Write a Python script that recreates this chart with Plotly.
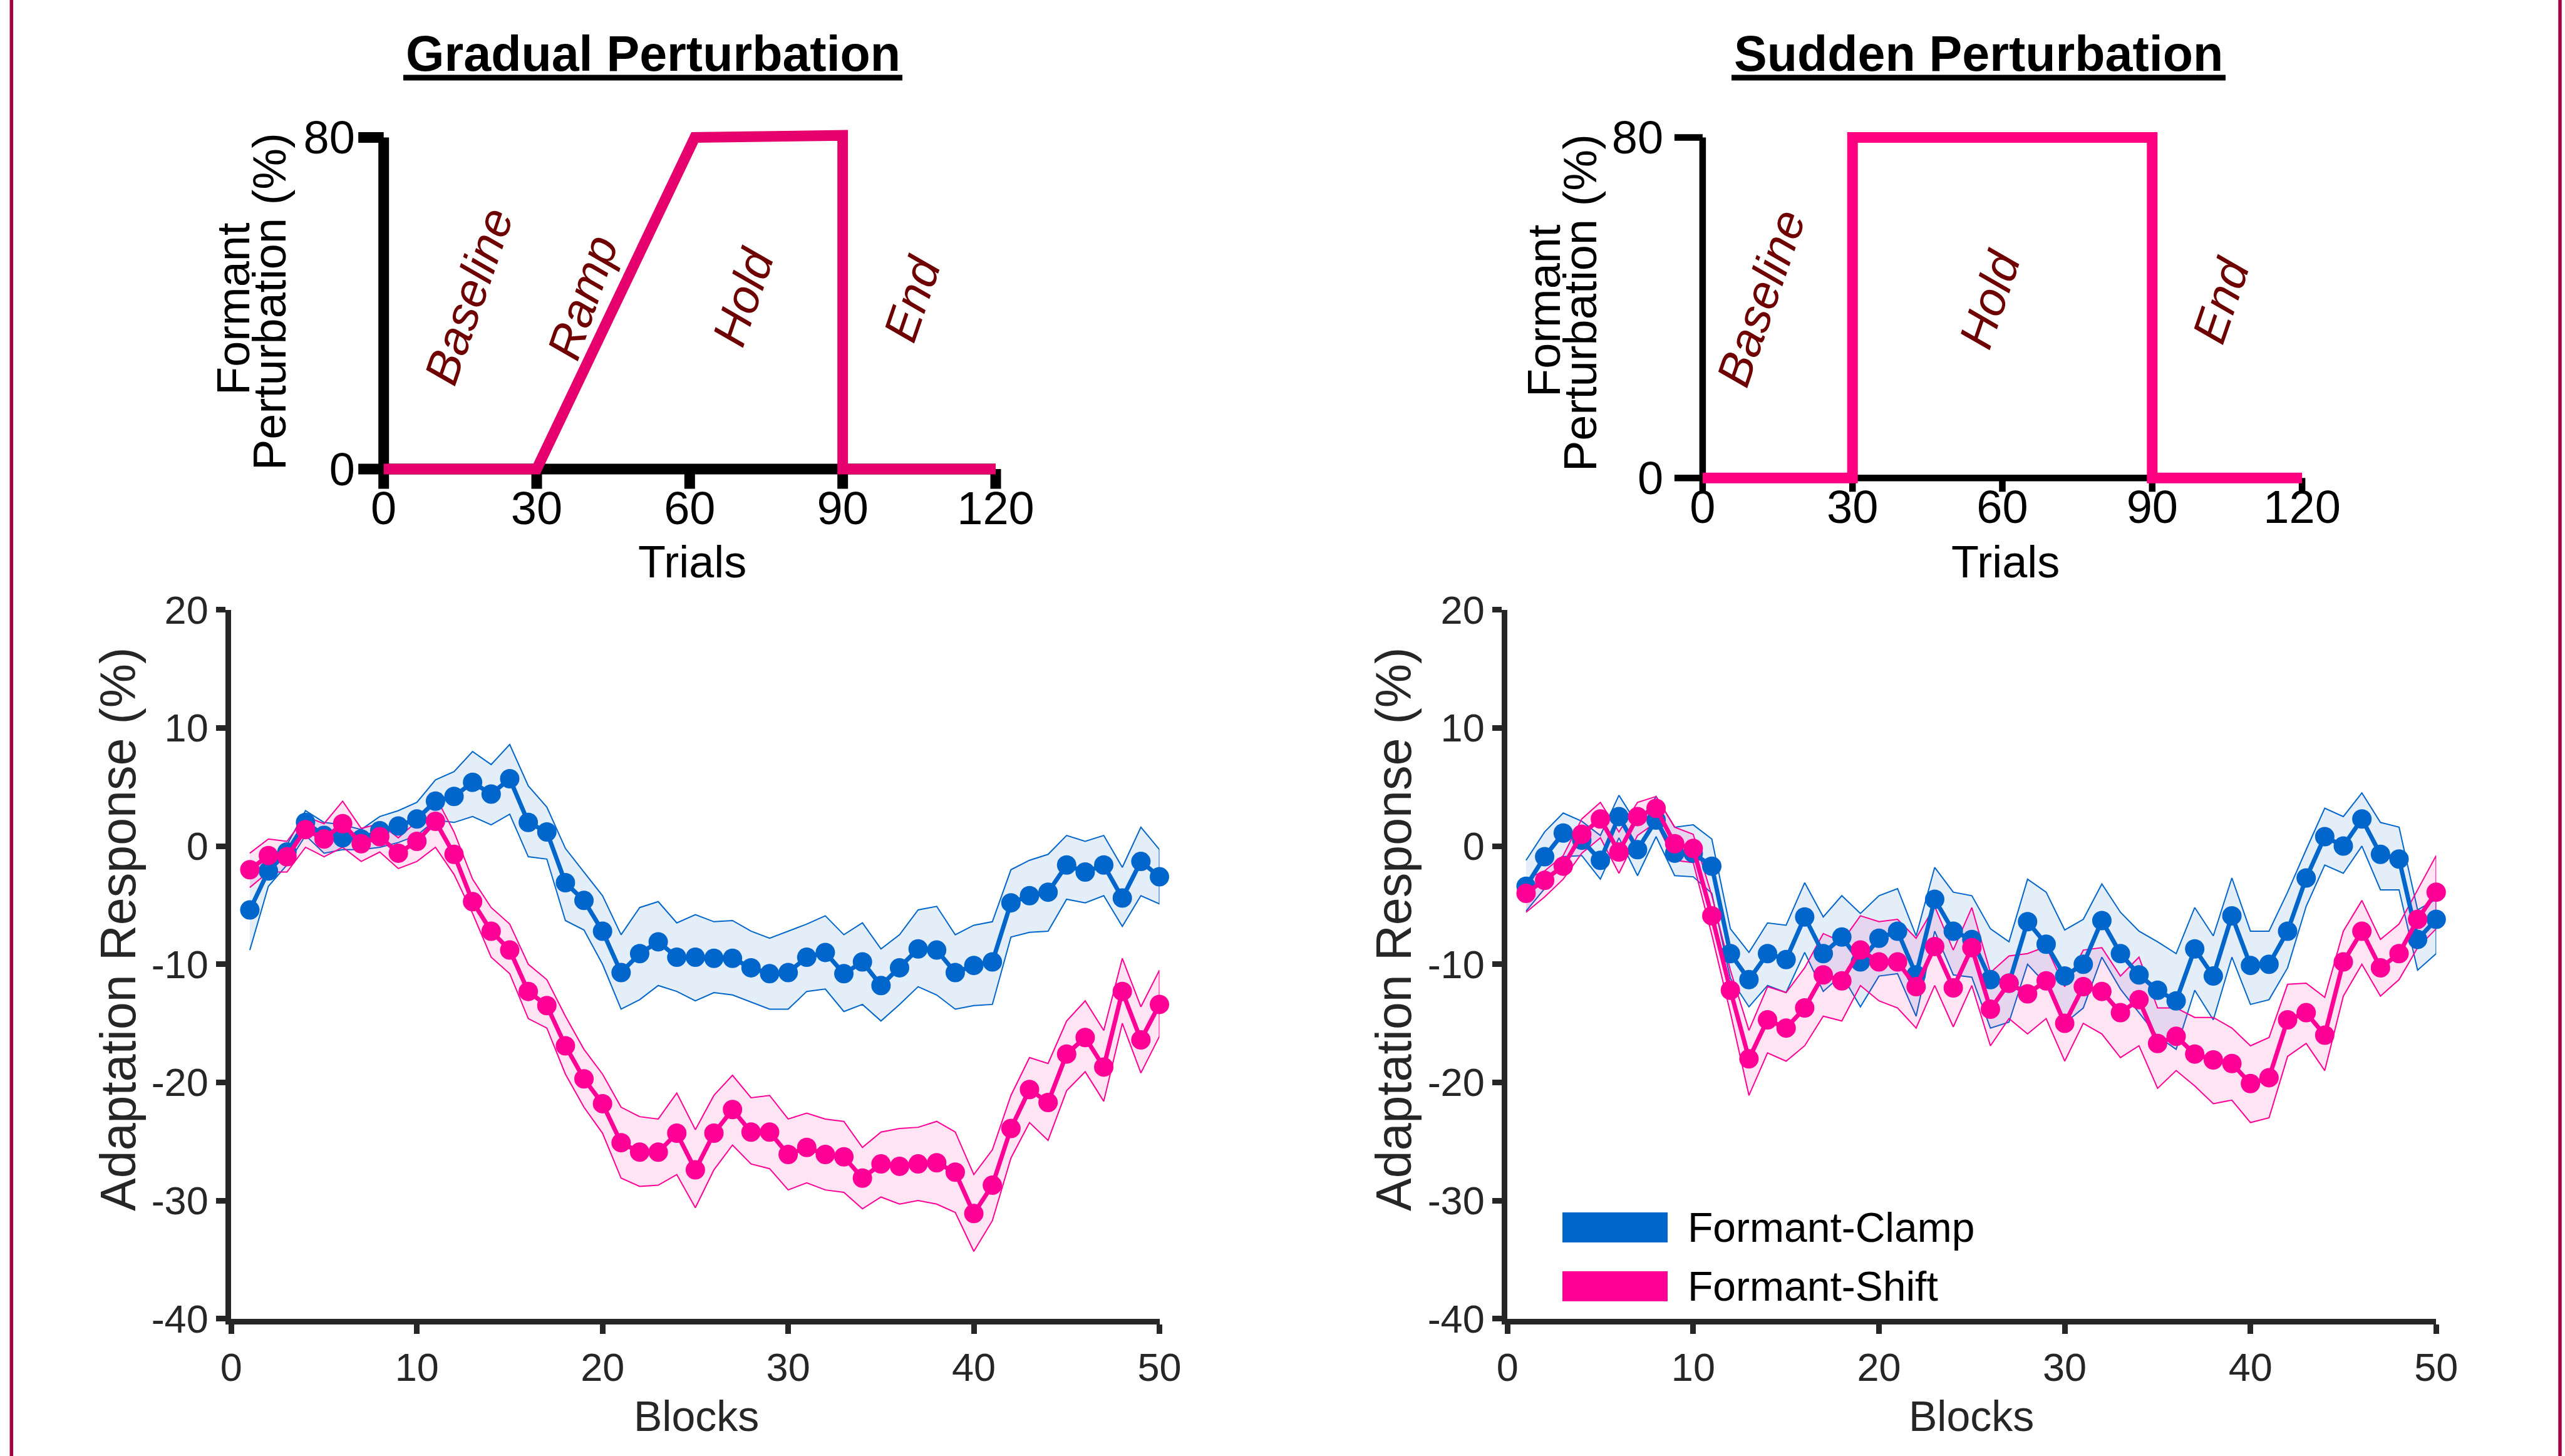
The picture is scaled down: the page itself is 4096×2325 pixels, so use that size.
import plotly.graph_objects as go

W, H = 4096, 2325

# ---------------- data ----------------
trial_ticks = [0, 30, 60, 90, 120]
pert_ticks = [0, 80]
gradual_trials = [0, 30, 61, 90, 90, 120]
gradual_pert = [0, 0, 80, 80.5, 0, 0]
sudden_trials = [0, 30, 30, 90, 90, 120]
sudden_pert = [0, 0, 80, 80, 0, 0]
gradual_phases = ["Baseline", "Ramp", "Hold", "End"]
sudden_phases = ["Baseline", "Hold", "End"]

blocks = list(range(1, 51))
block_ticks = [0, 10, 20, 30, 40, 50]
resp_ticks = [-40, -30, -20, -10, 0, 10, 20]
resp_tick_text = ["-40", "-30", "-20", "-10", "0", "10", "20"]

grad_clamp_mean = [-5.4, -2.1, -0.5, 2.0, 0.9, 0.7, 0.6, 1.3, 1.7, 2.3, 3.8, 4.2, 5.4, 4.4, 5.7, 2.0, 1.2, -3.1, -4.6, -7.2,
                   -10.7, -9.1, -8.1, -9.4, -9.4, -9.5, -9.5, -10.3, -10.8, -10.7, -9.4, -9.0, -10.8, -9.8, -11.8, -10.3, -8.7, -8.8, -10.7, -10.1,
                   -9.8, -4.8, -4.2, -3.9, -1.6, -2.2, -1.6, -4.4, -1.3, -2.6]
grad_clamp_upper = [-2.0, -1.0, 0.1, 3.0, 2.0, 1.8, 1.4, 2.5, 3.0, 3.7, 5.6, 6.3, 8.0, 6.9, 8.6, 5.1, 3.3, -0.2, -2.2, -4.2,
                    -7.5, -5.2, -4.7, -6.5, -5.8, -6.4, -6.3, -7.2, -7.8, -7.2, -6.6, -5.9, -7.5, -6.5, -8.7, -7.5, -5.4, -5.1, -7.5, -6.7,
                    -6.4, -2.0, -1.2, -0.7, 0.9, 0.4, 0.9, -1.8, 1.6, -0.3]
grad_clamp_lower = [-8.8, -3.4, -1.6, 0.9, -0.6, -0.3, -0.3, -0.1, 0.3, 0.9, 2.2, 2.0, 2.5, 1.8, 2.7, -0.9, -1.1, -6.3, -7.1, -10.0,
                    -13.8, -13.0, -11.8, -12.3, -13.1, -12.4, -12.6, -13.2, -13.8, -13.8, -12.3, -12.1, -14.0, -13.4, -14.8, -13.4, -11.9, -12.6, -13.8, -13.5,
                    -13.4, -7.7, -7.3, -7.2, -4.5, -4.8, -4.2, -6.8, -4.2, -4.9]

grad_shift_mean = [-2.0, -0.8, -0.9, 1.4, 0.6, 1.9, 0.2, 0.8, -0.6, 0.4, 2.1, -0.7, -4.7, -7.2, -8.8, -12.3, -13.5, -16.9, -19.7, -21.8,
                   -25.1, -25.9, -25.9, -24.3, -27.4, -24.3, -22.3, -24.2, -24.2, -26.1, -25.5, -26.1, -26.3, -28.1, -26.9, -27.1, -26.9, -26.8, -27.6, -31.1,
                   -28.7, -23.9, -20.6, -21.7, -17.6, -16.2, -18.7, -12.3, -16.4, -13.4]
grad_shift_upper = [-0.6, 0.6, 0.4, 2.5, 1.9, 3.8, 1.5, 1.9, 0.7, 2.1, 4.2, 1.2, -2.8, -5.2, -6.6, -10.0, -11.3, -14.4, -17.2, -19.3,
                    -22.1, -22.9, -23.1, -20.9, -24.0, -21.1, -19.4, -21.3, -21.1, -23.1, -22.6, -23.1, -23.3, -25.5, -24.2, -23.9, -23.8, -23.3, -24.2, -27.8,
                    -25.7, -21.1, -17.9, -18.4, -14.8, -13.1, -15.6, -9.5, -13.6, -10.5]
grad_shift_lower = [-3.5, -2.2, -2.2, -0.1, -0.9, -0.1, -1.3, -0.5, -1.9, -1.3, -0.1, -2.4, -5.7, -9.4, -10.8, -14.6, -15.4, -19.3, -22.1, -24.3,
                    -28.1, -28.8, -28.7, -27.8, -30.6, -27.4, -25.3, -26.9, -27.3, -29.1, -28.5, -29.1, -29.3, -30.7, -29.7, -30.3, -30.0, -30.3, -31.0, -34.3,
                    -31.7, -26.4, -23.4, -24.9, -20.7, -19.1, -21.6, -15.0, -19.2, -16.1]

sud_clamp_mean = [-3.4, -0.9, 1.1, 0.5, -1.2, 2.5, -0.3, 2.2, -0.6, -0.6, -1.7, -9.1, -11.3, -9.1, -9.6, -6.0, -9.1, -7.7, -9.8, -7.8,
                  -7.2, -10.9, -4.5, -7.2, -7.9, -11.3, -11.6, -6.4, -8.3, -11.0, -10.0, -6.3, -9.1, -10.9, -12.2, -13.1, -8.7, -11.0, -5.9, -10.1,
                  -10.0, -7.2, -2.7, 0.8, 0.0, 2.3, -0.7, -1.1, -7.9, -6.2]
sud_clamp_upper = [-1.2, 1.2, 2.8, 2.1, 0.9, 4.3, 1.8, 4.2, 1.6, 1.8, 0.6, -7.0, -9.0, -6.5, -6.7, -3.1, -6.0, -4.2, -5.7, -4.2,
                   -3.6, -7.6, -1.8, -3.9, -4.2, -7.0, -8.1, -2.8, -3.9, -7.1, -6.2, -3.2, -5.6, -7.2, -8.1, -9.1, -5.2, -7.6, -2.7, -7.2,
                   -7.2, -3.9, -0.3, 3.2, 2.5, 4.5, 2.0, 1.6, -5.4, -4.5]
sud_clamp_lower = [-5.5, -3.6, -0.9, -0.8, -2.8, 0.7, -2.5, 0.8, -2.5, -2.6, -4.0, -11.2, -13.6, -11.8, -12.4, -9.0, -12.3, -10.9, -13.6, -11.0,
                   -10.8, -14.4, -7.2, -10.9, -11.1, -15.4, -14.9, -10.0, -11.7, -15.0, -13.7, -9.4, -12.1, -14.1, -16.1, -17.2, -12.2, -14.7, -9.4, -13.4,
                   -13.0, -10.3, -5.1, -1.6, -2.3, 0.0, -3.7, -3.7, -10.5, -9.1]

sud_shift_mean = [-4.0, -2.9, -1.7, 1.0, 2.3, -0.5, 2.5, 3.2, 0.2, -0.2, -5.9, -12.2, -18.0, -14.7, -15.4, -13.7, -10.9, -11.4, -8.8, -9.8,
                  -9.8, -11.9, -8.5, -12.0, -8.6, -13.8, -11.6, -12.5, -11.4, -15.0, -11.9, -12.3, -14.1, -13.0, -16.7, -16.1, -17.6, -18.1, -18.4, -20.1,
                  -19.6, -14.7, -14.1, -16.0, -9.8, -7.2, -10.3, -9.1, -6.2, -3.9]
sud_shift_upper = [-2.8, -2.1, -0.8, 2.3, 3.7, 1.2, 3.7, 4.2, 1.6, 1.0, -4.2, -10.5, -15.6, -11.9, -12.4, -10.3, -7.4, -8.1, -5.9, -6.4,
                   -6.2, -7.8, -5.1, -8.8, -5.2, -10.7, -9.3, -9.1, -8.5, -11.9, -8.8, -8.6, -11.0, -9.4, -13.7, -13.7, -14.5, -14.5, -15.4, -16.9,
                   -16.2, -11.7, -11.6, -12.8, -7.2, -4.6, -7.9, -6.6, -3.7, -0.8]
sud_shift_lower = [-5.6, -4.3, -2.8, -0.6, 0.7, -2.3, 0.9, 2.0, -1.2, -1.4, -7.5, -14.1, -21.1, -17.5, -18.2, -16.9, -14.4, -14.8, -11.8, -13.1,
                   -13.7, -15.4, -11.8, -15.3, -11.8, -16.9, -14.6, -15.9, -14.6, -18.2, -15.0, -15.9, -17.9, -16.9, -20.5, -19.0, -20.3, -21.8, -21.5, -23.4,
                   -23.0, -17.8, -16.7, -19.0, -12.7, -10.0, -12.7, -11.3, -8.6, -7.0]

series_names = ["Formant-Clamp", "Formant-Shift"]

# ---------------- style ----------------
FONT = "Liberation Sans, Arial, Helvetica, sans-serif"
BLUE = "#0066CC"
PINK = "#FF0096"
BLUE_FILL = "rgba(0,102,204,0.11)"
PINK_FILL = "rgba(255,0,150,0.10)"
AX = "#262626"
LABEL_RED = "#6E0000"
BORDER = "#A50044"


def xdom(pa, va, pb, vb, r0, r1):
    k = (pb - pa) / (vb - va)
    return [(pa + (r0 - va) * k) / W, (pa + (r1 - va) * k) / W], k


def ydom(pa, va, pb, vb, r0, r1):
    k = (pb - pa) / (vb - va)
    bottom = pa + (r0 - va) * k
    top = pa + (r1 - va) * k
    return [1 - bottom / H, 1 - top / H], -k


def px(x):
    return x / W


def py(y):
    return 1 - y / H


# axis geometry (output pixels)
TL_XR, TL_YR = [-5.5, 123], [-5, 83]
TR_XR, TR_YR = [-6.5, 123], [-4, 83]
tl_xd, tl_kx = xdom(612.7, 0, 1590.0, 120, *TL_XR)
tl_yd, tl_ky = ydom(749.0, 0, 219.5, 80, *TL_YR)
tr_xd, tr_kx = xdom(2718.9, 0, 3676.1, 120, *TR_XR)
tr_yd, tr_ky = ydom(763.2, 0, 219.5, 80, *TR_YR)
bl_xd, _ = xdom(369.3, 0, 1851.5, 50, 0, 50)
br_xd, _ = xdom(2407.3, 0, 3890.3, 50, 0, 50)
b_yd, _ = ydom(2105.8, -40, 973.7, 20, -40, 20)

fig = go.Figure()

# top panels
fig.add_trace(go.Scatter(x=gradual_trials, y=gradual_pert, mode="lines",
                         line=dict(color="#E6006E", width=17), xaxis="x", yaxis="y",
                         showlegend=False, hoverinfo="skip"))
fig.add_trace(go.Scatter(x=sudden_trials, y=sudden_pert, mode="lines",
                         line=dict(color="#FF0080", width=17), xaxis="x2", yaxis="y2",
                         showlegend=False, hoverinfo="skip"))


def add_band_series(xa, ya, upper, lower, fillc, linec):
    fig.add_trace(go.Scatter(x=blocks + blocks[::-1], y=upper + lower[::-1], mode="lines",
                             fill="toself", fillcolor=fillc, line=dict(color=linec, width=2),
                             xaxis=xa, yaxis=ya, showlegend=False, hoverinfo="skip"))


def add_mean_series(xa, ya, mean, color, name):
    fig.add_trace(go.Scatter(x=blocks, y=mean, mode="lines+markers", name=name,
                             line=dict(color=color, width=7),
                             marker=dict(color=color, size=31, line=dict(width=0)),
                             xaxis=xa, yaxis=ya, showlegend=False, cliponaxis=False))


add_band_series("x3", "y3", grad_clamp_upper, grad_clamp_lower, BLUE_FILL, BLUE)
add_band_series("x3", "y3", grad_shift_upper, grad_shift_lower, PINK_FILL, PINK)
add_mean_series("x3", "y3", grad_clamp_mean, BLUE, series_names[0])
add_mean_series("x3", "y3", grad_shift_mean, PINK, series_names[1])

add_band_series("x4", "y4", sud_clamp_upper, sud_clamp_lower, BLUE_FILL, BLUE)
add_band_series("x4", "y4", sud_shift_upper, sud_shift_lower, PINK_FILL, PINK)
add_mean_series("x4", "y4", sud_clamp_mean, BLUE, series_names[0])
add_mean_series("x4", "y4", sud_shift_mean, PINK, series_names[1])

# ---------------- axes ----------------
top_x_common = dict(showline=False, showgrid=False, zeroline=False, ticks="",
                    tickvals=trial_ticks, ticktext=[str(t) for t in trial_ticks],
                    tickfont=dict(family=FONT, size=74, color="black"), fixedrange=True,
                    automargin=False)
top_y_common = dict(showline=False, showgrid=False, zeroline=False, ticks="",
                    tickvals=pert_ticks, ticktext=[str(t) for t in pert_ticks],
                    tickfont=dict(family=FONT, size=74, color="black"), fixedrange=True,
                    automargin=False)
bot_x_common = dict(range=[0, 50], showline=True, linewidth=9, linecolor=AX, mirror=False,
                    ticks="outside", ticklen=15, tickwidth=9, tickcolor=AX,
                    tickvals=block_ticks, ticktext=[str(t) for t in block_ticks],
                    tickfont=dict(family=FONT, size=63, color=AX),
                    showgrid=False, zeroline=False, automargin=False)
bot_y_common = dict(range=[-40, 20], showline=True, linewidth=9, linecolor=AX, mirror=False,
                    ticks="outside", ticklen=15, tickwidth=9, tickcolor=AX,
                    tickvals=resp_ticks, ticktext=resp_tick_text,
                    tickfont=dict(family=FONT, size=63, color=AX),
                    showgrid=False, zeroline=False, automargin=False)

layout = dict(
    template="none",
    width=W, height=H, autosize=False,
    margin=dict(l=0, r=0, t=0, b=0, pad=0, autoexpand=False),
    paper_bgcolor="white", plot_bgcolor="rgba(0,0,0,0)",
    showlegend=False,
    xaxis=dict(domain=tl_xd, range=TL_XR, anchor="y", ticklabelstandoff=-20, **top_x_common),
    yaxis=dict(domain=tl_yd, range=TL_YR, anchor="x", **top_y_common),
    xaxis2=dict(domain=tr_xd, range=TR_XR, anchor="y2", ticklabelstandoff=-30, **top_x_common),
    yaxis2=dict(domain=tr_yd, range=TR_YR, anchor="x2", ticklabelstandoff=10, **top_y_common),
    xaxis3=dict(domain=bl_xd, anchor="y3", **bot_x_common),
    yaxis3=dict(domain=b_yd, anchor="x3", **bot_y_common),
    xaxis4=dict(domain=br_xd, anchor="y4", **bot_x_common),
    yaxis4=dict(domain=b_yd, anchor="x4", **bot_y_common),
)
fig.update_layout(**layout)

shapes = []


def top_axis_shapes(xr, yr, lw, kx, ky, ytick_px, xtick_px):
    ytl = ytick_px / kx
    xtl = xtick_px / ky
    s = []
    s.append(dict(type="line", xref=xr, yref=yr, x0=0, x1=trial_ticks[-1], y0=0, y1=0,
                  line=dict(color="black", width=lw), layer="below"))
    s.append(dict(type="line", xref=xr, yref=yr, x0=0, x1=0, y0=0, y1=pert_ticks[-1],
                  line=dict(color="black", width=lw), layer="below"))
    for v in pert_ticks:
        s.append(dict(type="line", xref=xr, yref=yr, x0=-ytl, x1=0, y0=v, y1=v,
                      line=dict(color="black", width=lw), layer="below"))
    for v in trial_ticks:
        s.append(dict(type="line", xref=xr, yref=yr, x0=v, x1=v, y0=-xtl, y1=0,
                      line=dict(color="black", width=lw), layer="below"))
    return s


shapes += top_axis_shapes("x", "y", 17, tl_kx, tl_ky, 40.5, 31.5)
shapes += top_axis_shapes("x2", "y2", 10.5, tr_kx, tr_ky, 45, 22)

# title underlines
shapes.append(dict(type="line", xref="paper", yref="paper", x0=px(644), x1=px(1441), y0=py(124), y1=py(124),
                   line=dict(color="black", width=9)))
shapes.append(dict(type="line", xref="paper", yref="paper", x0=px(2765), x1=px(3554), y0=py(124), y1=py(124),
                   line=dict(color="black", width=9)))

# legend swatches
shapes.append(dict(type="rect", xref="paper", yref="paper", x0=px(2495), x1=px(2663), y0=py(1984), y1=py(1936),
                   fillcolor=BLUE, line=dict(width=0)))
shapes.append(dict(type="rect", xref="paper", yref="paper", x0=px(2495), x1=px(2663), y0=py(2078), y1=py(2030),
                   fillcolor="#FF0096", line=dict(width=0)))

# side border lines
shapes.append(dict(type="line", xref="paper", yref="paper", x0=px(18.3), x1=px(18.3), y0=0, y1=1,
                   line=dict(color=BORDER, width=5.5)))
shapes.append(dict(type="line", xref="paper", yref="paper", x0=px(4088), x1=px(4088), y0=0, y1=1,
                   line=dict(color=BORDER, width=5.5)))

ann = []


def text(x, y, t, size, color="black", xanchor="center", yanchor="middle", angle=0, xref="paper", yref="paper",
         italic=False):
    ann.append(dict(x=x, y=y, xref=xref, yref=yref, text=t, showarrow=False, xanchor=xanchor, yanchor=yanchor,
                    textangle=angle,
                    font=dict(family=FONT, size=size, color=color, style="italic" if italic else "normal")))


text(px(1042.5), py(85), "<b>Gradual Perturbation</b>", 79)
text(px(3159.5), py(85), "<b>Sudden Perturbation</b>", 79)

# top y-axis titles
text(px(372), py(493), "Formant", 74, angle=-90)
text(px(431), py(482), "Perturbation (%)", 74, angle=-90)
text(px(2465), py(496), "Formant", 74, angle=-90)
text(px(2524), py(484), "Perturbation (%)", 74, angle=-90)

# top x-axis titles
text(px(1105), py(897), "Trials", 72)
text(px(3202), py(897), "Trials", 72)

# phase labels (positions in data units)
for name, (x, y) in zip(gradual_phases, [(16.7, 41.7), (39.0, 41.4), (70.5, 41.6), (103.6, 41.2)]):
    text(x, y, name, 76, color=LABEL_RED, angle=-71, xref="x", yref="y", italic=True)
for name, (x, y) in zip(sudden_phases, [(11.6, 42.4), (57.5, 42.0), (103.7, 41.8)]):
    text(x, y, name, 76, color=LABEL_RED, angle=-71, xref="x2", yref="y2", italic=True)

# bottom axis titles
text(px(188), py(1484), "Adaptation Response (%)", 79, color=AX, angle=-90)
text(px(2225), py(1484), "Adaptation Response (%)", 79, color=AX, angle=-90)
text(px(1112), py(2261), "Blocks", 68, color=AX)
text(px(3148), py(2261), "Blocks", 68, color=AX)

# legend labels
text(px(2693), py(1960), series_names[0], 66, xanchor="left")
text(px(2693), py(2054), series_names[1], 66, xanchor="left")

fig.update_layout(shapes=shapes, annotations=ann)
fig.write_html("out.html",
               config={"displayModeBar": False},
               post_script="document.body.style.margin='0px';document.body.style.overflow='hidden';")
